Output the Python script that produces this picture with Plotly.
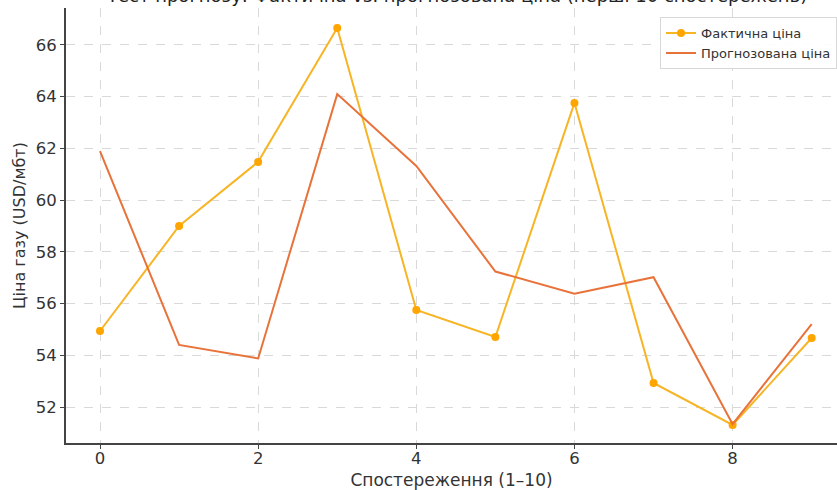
import plotly.graph_objects as go

observations = list(range(10))
actual_price = [54.94, 59.0, 61.48, 66.66, 55.75, 54.71, 63.76, 52.93, 51.31, 54.67]
predicted_price = [61.9, 54.4, 53.88, 64.1, 61.32, 57.24, 56.38, 57.02, 51.34, 55.21]
x_ticks = [0, 2, 4, 6, 8]
y_ticks = [52, 54, 56, 58, 60, 62, 64, 66]

title_text = "Тест прогнозу: Фактична vs. прогнозована ціна (перші 10 спостережень)"

fig = go.Figure()
fig.add_trace(go.Scatter(
    x=observations, y=actual_price, mode="lines+markers", name="Фактична ціна",
    line=dict(color="#F7B526", width=2), marker=dict(color="#FFA500", size=8)))
fig.add_trace(go.Scatter(
    x=observations, y=predicted_price, mode="lines", name="Прогнозована ціна",
    line=dict(color="#E8733A", width=2)))

font_family = "DejaVu Sans"
fig.update_layout(
    width=837, height=490,
    margin=dict(l=66, r=0, t=8, b=47),
    plot_bgcolor="white", paper_bgcolor="white",
    font=dict(family=font_family, color="#333333"),
    showlegend=True,
    legend=dict(x=1, xanchor="right", y=0.979, yanchor="top",
                bgcolor="rgba(255,255,255,0.9)", bordercolor="#d8d8d8", borderwidth=1,
                font=dict(size=13, family=font_family, color="#333333"),
                tracegroupgap=0),
    annotations=[dict(text=title_text, xref="paper", yref="paper", x=0.507, y=1,
                      xanchor="center", yanchor="bottom", yshift=0, showarrow=False,
                      font=dict(size=18, family=font_family, color="#222222"))],
)
fig.update_xaxes(
    range=[-0.43, 9.32], tickvals=x_ticks, ticktext=[str(v) for v in x_ticks],
    showline=True, linecolor="#444444", linewidth=2,
    ticks="outside", ticklen=4, tickcolor="#444444", ticklabelstandoff=-5,
    showgrid=True, gridcolor="#d9d9d9", griddash="dash", gridwidth=1,
    zeroline=False, tickfont=dict(size=16.5),
    title=dict(text="Спостереження (1–10)", font=dict(size=17), standoff=9))
fig.update_yaxes(
    range=[50.61, 67.43], tickvals=y_ticks, ticktext=[str(v) for v in y_ticks],
    showline=True, linecolor="#444444", linewidth=2,
    ticks="outside", ticklen=4, tickcolor="#444444",
    showgrid=True, gridcolor="#d9d9d9", griddash="dash", gridwidth=1,
    zeroline=False, tickfont=dict(size=16.5),
    title=dict(text="Ціна газу (USD/мбт)", font=dict(size=16), standoff=6))

fig.write_html("out.html", config={"displayModeBar": False},
               post_script="document.body.style.margin='0';document.body.style.overflow='hidden';")
